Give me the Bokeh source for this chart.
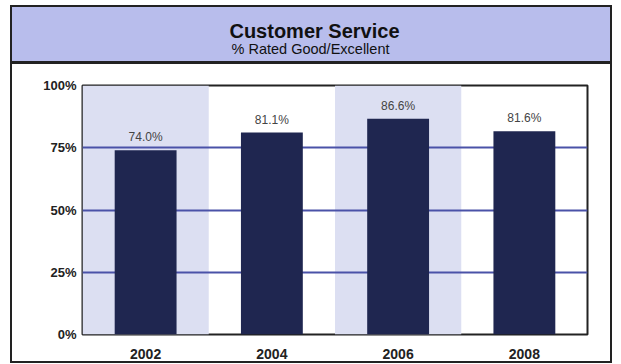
from bokeh.plotting import figure
from bokeh.models import Range1d, FixedTicker
from bokeh.layouts import column
from bokeh.core.properties import value
from bokeh.embed import file_html
from bokeh.resources import INLINE

# ---- data ----
years = ["2002", "2004", "2006", "2008"]
ratings = [74.0, 81.1, 86.6, 81.6]
rating_labels = [f"{v:.1f}%" for v in ratings]
shaded_years = ["2002", "2006"]
y_ticks = [0, 25, 50, 75, 100]
y_tick_labels = ["0%", "25%", "50%", "75%", "100%"]
grid_ticks = [25, 50, 75]
title_text = "Customer Service"
subtitle_text = "% Rated Good/Excellent"

# ---- colours ----
BAND = "#b8bdec"
SHADE = "#dcdff2"
BAR = "#1f2650"
GRID = "#4a52a8"
DARK = "#222222"
FONT = "Liberation Sans"

# ---- title band (x/y ranges in pixels of the band) ----
t = figure(width=598, height=57, x_range=Range1d(70, 575), y_range=Range1d(54, 0),
           x_axis_location=None, y_axis_location=None,
           min_border_left=70, min_border_right=23, min_border_top=0, min_border_bottom=0,
           background_fill_color=BAND, border_fill_color=BAND,
           outline_line_color=None, toolbar_location=None, output_backend="svg",
           styles={"border-bottom": "3px solid #222222", "background-color": BAND})
t.grid.visible = False
t.text(x=[302], y=[22], text=[title_text], text_align="center", text_baseline="middle",
       text_font=value(FONT), text_font_style="bold", text_font_size="20px", text_color="#111111")
t.text(x=[298], y=[39], text=[subtitle_text], text_align="center", text_baseline="middle",
       text_font=value(FONT), text_font_size="14.5px", text_color="#111111")

# ---- main chart ----
p = figure(x_range=years, y_range=Range1d(0, 100), width=598, height=297,
           min_border_left=70, min_border_right=23, min_border_top=21, min_border_bottom=23,
           background_fill_color="white", border_fill_color="white",
           outline_line_color=DARK, outline_line_width=2,
           toolbar_location=None, output_backend="svg")

p.vbar(x=shaded_years, top=y_ticks[-1], width=1.0, fill_color=SHADE, line_color=None, level="image")
p.vbar(x=years, top=ratings, width=0.49, fill_color=BAR, line_color=None)
p.text(x=years, y=ratings, text=rating_labels, y_offset=-6, text_align="center", text_baseline="bottom",
       text_font=value(FONT), text_font_size="12px", text_color="#444444")

p.xgrid.grid_line_color = None
p.ygrid.ticker = FixedTicker(ticks=grid_ticks)
p.ygrid.grid_line_color = GRID
p.ygrid.grid_line_width = 2

p.yaxis.ticker = FixedTicker(ticks=y_ticks)
p.yaxis.major_label_overrides = dict(zip(y_ticks, y_tick_labels))
for ax in (p.xaxis, p.yaxis):
    ax.axis_line_color = None
    ax.major_tick_line_color = None
    ax.minor_tick_line_color = None
    ax.major_label_text_font = FONT
    ax.major_label_text_font_style = "bold"
    ax.major_label_text_color = DARK
p.yaxis.major_label_text_font_size = "13px"
p.yaxis.major_label_standoff = 0
p.xaxis.major_label_text_font_size = "14px"
p.xaxis.major_label_standoff = 8

layout = column(t, p, spacing=0, margin=(5, 0, 0, 10),
                styles={"border": "2px solid #222222"})

open("out.html", "w").write(file_html(layout, INLINE))
